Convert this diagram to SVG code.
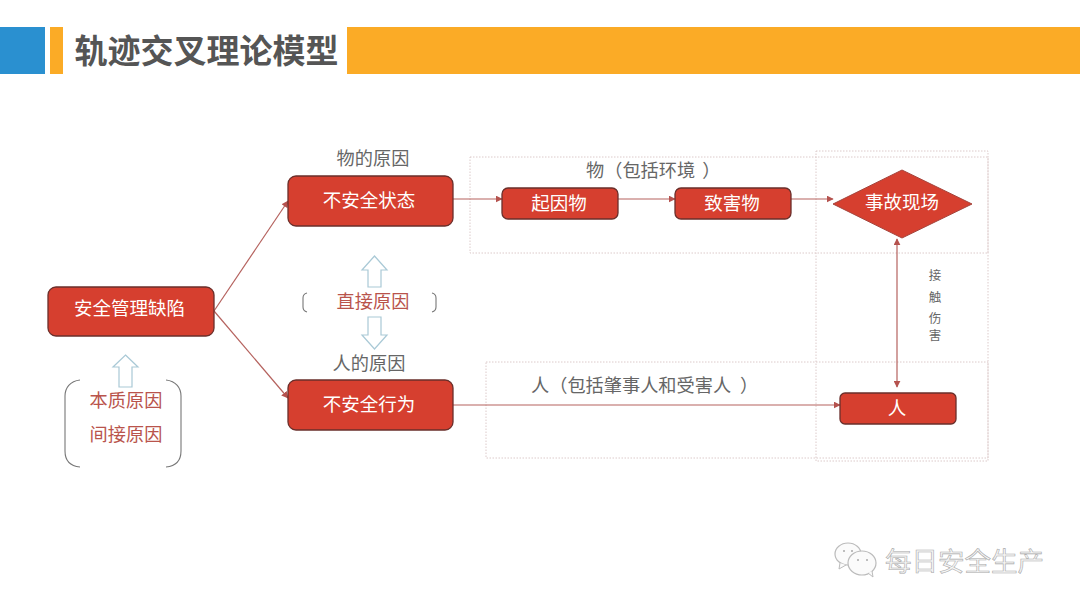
<svg xmlns="http://www.w3.org/2000/svg" width="1080" height="608" viewBox="0 0 1080 608">
<style>
text{font-family:"Noto Sans CJK SC","Liberation Sans",sans-serif;text-anchor:middle}
.n{fill:#d63f2f;stroke:#6a2f2b;stroke-width:1.3}
.w{fill:#fff;font-size:18.5px}
.g{fill:#666;font-size:18.200px}
.p{text-anchor:start}
.r{fill:#b9544c;font-size:18.200px}
.c{fill:none;stroke:#b5625e;stroke-width:1.2}
.d{fill:none;stroke:#dccaca;stroke-width:1;stroke-dasharray:1.500 1.500}
.u{fill:#fff;stroke:#a9c9d6;stroke-width:1.2}
.b{fill:none;stroke:#777;stroke-width:1.1}
.wm{fill:#f6f6f6;stroke:#aaa;stroke-width:.6;font-size:26.500px}
</style>
<defs>
<marker id="a" viewBox="0 0 10 10" refX="9" refY="5" markerWidth="7" markerHeight="7" markerUnits="userSpaceOnUse" orient="auto-start-reverse"><path d="M0 0L10 5L0 10z" fill="#b5524e"/></marker>
</defs>
<rect width="1080" height="608" fill="#fff"/>
<g id="header">
<rect x="0" y="27" width="45" height="47" fill="#2a90d0"/>
<rect x="50" y="27" width="13" height="47" fill="#fbab26"/>
<rect x="347" y="27" width="733" height="47" fill="#fbab26"/>
<text x="206.500" y="62.500" style="font-size:33px;font-weight:700;fill:#555">轨迹交叉理论模型</text>
</g>
<g id="regions">
<rect class="d" x="470" y="157" width="518" height="96"/>
<rect class="d" x="486" y="362" width="502" height="96"/>
<rect class="d" x="816" y="151" width="172" height="310"/>
</g>
<g id="connectors">
<path class="c" marker-end="url(#a)" d="M214 311L288 201"/>
<path class="c" marker-end="url(#a)" d="M214 311L288 398"/>
<path class="c" marker-end="url(#a)" d="M453 199H502"/>
<path class="c" marker-end="url(#a)" d="M618 199H675"/>
<path class="c" marker-end="url(#a)" d="M791 199H833"/>
<path class="c" marker-end="url(#a)" d="M453 405H840"/>
<path class="c" marker-start="url(#a)" marker-end="url(#a)" d="M897 239V387"/>
</g>
<g id="n-root"><rect class="n" x="48" y="287" width="166" height="49" rx="8"/><text class="w" x="129.500" y="314.500">安全管理缺陷</text></g>
<g id="n-state"><rect class="n" x="288" y="176" width="165" height="50" rx="8"/><text class="w" x="369" y="207">不安全状态</text></g>
<g id="n-act"><rect class="n" x="288" y="380" width="165" height="50" rx="8"/><text class="w" x="369" y="411">不安全行为</text></g>
<g id="n-origin"><rect class="n" x="502" y="188" width="116" height="31" rx="6"/><text class="w" x="559" y="210">起因物</text></g>
<g id="n-harm"><rect class="n" x="675" y="188" width="116" height="31" rx="6"/><text class="w" x="732" y="210">致害物</text></g>
<g id="n-scene"><path d="M833 204L902 170L972 204L902 238z" fill="#d63f2f" stroke="#a5443c"/><text class="w" x="902" y="209">事故现场</text></g>
<g id="n-person"><rect class="n" x="840" y="393" width="116" height="31" rx="5"/><text class="w" x="897" y="415">人</text></g>
<g id="labels">
<text class="g" x="373" y="165">物的原因</text>
<text class="g" x="369" y="370">人的原因</text>
<text class="r" x="373" y="308">直接原因</text>
<text class="r" x="126" y="407">本质原因</text>
<text class="r" x="126" y="441">间接原因</text>
<text class="g p" x="586" y="177">物（包括环境<tspan dx="7">）</tspan></text>
<text class="g p" x="531" y="392">人（包括肇事人和受害人<tspan dx="9">）</tspan></text>
<g style="font-size:12.500px;fill:#666"><text x="935" y="280">接</text><text x="935" y="302">触</text><text x="935" y="323">伤</text><text x="935" y="340">害</text></g>
</g>
<g id="cause-arrows">
<path class="u" d="M374.500 256L387 270H381V287H368V270H362z"/>
<path class="u" d="M374.500 349L387 335H381V317H368V335H362z"/>
<path class="u" d="M125.500 355L138 367H132V387H119V367H113z"/>
</g>
<g id="brackets">
<path class="b" d="M307 293Q303 294 303 298V307Q303 311 307 312"/>
<path class="b" d="M432 293Q436 294 436 298V307Q436 311 432 312"/>
<path class="b" d="M80 380C70 381 65 388 65 396V451C65 460 70 466 80 467"/>
<path class="b" d="M166 380C176 381 181 388 181 396V451C181 460 176 466 166 467"/>
</g>
<g id="watermark">
<ellipse cx="848" cy="554" rx="13" ry="11" fill="#fbfbfb" stroke="#bbb" stroke-width="1.200"/>
<path d="M840 563L839 569L846 565" fill="#fbfbfb" stroke="#bbb"/>
<ellipse cx="862" cy="563" rx="14" ry="12" fill="#fbfbfb" stroke="#bbb" stroke-width="1.200"/>
<path d="M868 573L873 577L872 571" fill="#fbfbfb" stroke="#bbb"/>
<circle cx="844" cy="551" r="1" fill="#aaa"/><circle cx="852" cy="551" r="1" fill="#aaa"/>
<circle cx="858" cy="560" r="1" fill="#aaa"/><circle cx="867" cy="560" r="1" fill="#aaa"/>
<text class="wm" x="964.500" y="571">每日安全生产</text>
</g>
</svg>
